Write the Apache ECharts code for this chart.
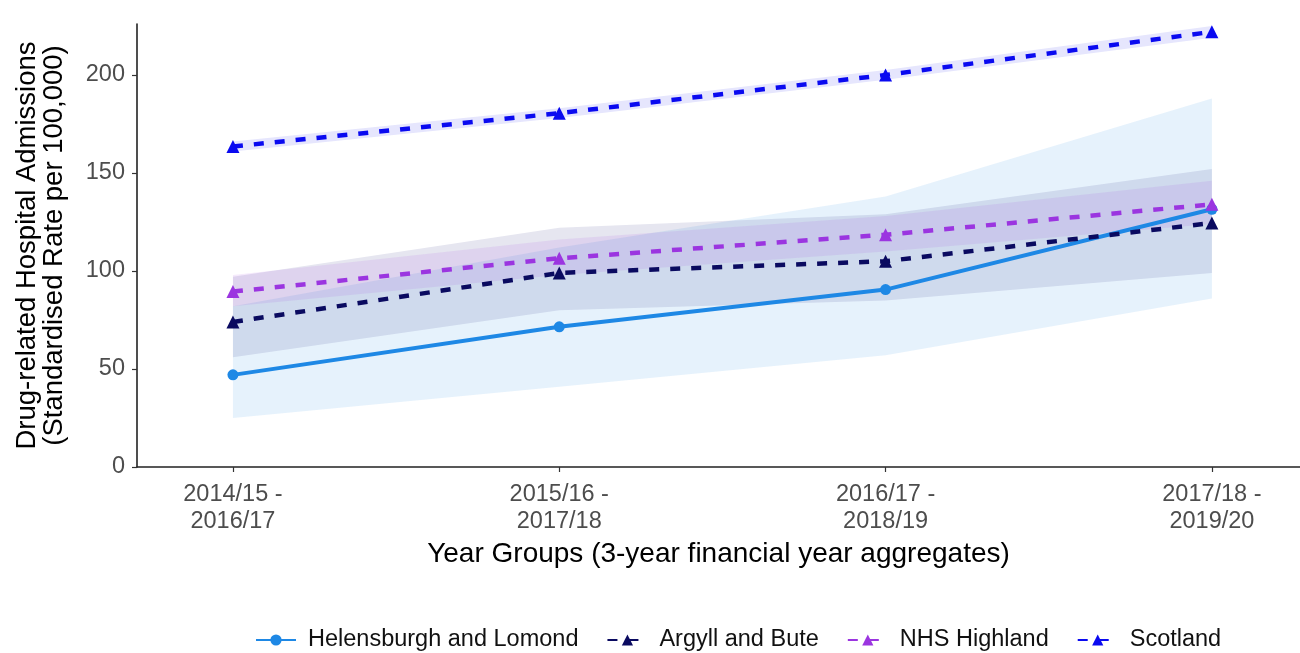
<!DOCTYPE html>
<html>
<head>
<meta charset="utf-8">
<script src="https://cdn.jsdelivr.net/npm/echarts@6/dist/echarts.min.js"></script>
<style>
html,body{margin:0;padding:0;background:#fff;}
#main{width:1300px;height:653px;}
</style>
</head>
<body>
<div id="main"></div>
<script>
const categories = ["2014/15 -\n2016/17", "2015/16 -\n2017/18", "2016/17 -\n2018/19", "2017/18 -\n2019/20"];
const seriesNames = ["Helensburgh and Lomond", "Argyll and Bute", "NHS Highland", "Scotland"];

const helensburgh = [47, 71.5, 90.5, 131.5];
const helensburghLower = [25, 41, 57, 86];
const helensburghUpper = [82, 112, 138, 188];

const argyll = [74, 99, 105, 124.5];
const argyllLower = [56, 80, 85, 99];
const argyllUpper = [97, 122, 129, 152];

const highland = [89.5, 106.5, 118.5, 134];
const highlandLower = [82, 98, 110, 124];
const highlandUpper = [98, 116, 128, 146];

const scotland = [163.5, 180.5, 200, 222];
const scotlandLower = [161, 178, 197.5, 219];
const scotlandUpper = [166, 183, 202.5, 225];

const yTicks = [0, 50, 100, 150, 200];

const colors = ["#1E88E5", "#0A0A60", "#9B35E0", "#0A0AF0"];
const fills = ["rgba(30,136,229,0.11)", "rgba(10,10,110,0.10)", "rgba(155,53,224,0.10)", "rgba(10,10,240,0.10)"];

const values = [helensburgh, argyll, highland, scotland];
const lowers = [helensburghLower, argyllLower, highlandLower, scotlandLower];
const uppers = [helensburghUpper, argyllUpper, highlandUpper, scotlandUpper];

const font = "Liberation Sans, Arial, sans-serif";
const series = [];
// confidence bands (ribbons)
for (let s = 0; s < 4; s++) {
  const lo = lowers[s], up = uppers[s], fill = fills[s];
  series.push({
    name: "band" + s, type: "custom", silent: true, z: 1,
    data: up.map((u, i) => [i, lo[i], u]),
    encode: {x: 0, y: [1, 2]},
    renderItem: function (params, api) {
      if (params.dataIndex !== 0) return null;
      const pts = [];
      for (let i = 0; i < up.length; i++) pts.push(api.coord([i, up[i]]));
      for (let i = lo.length - 1; i >= 0; i--) pts.push(api.coord([i, lo[i]]));
      return {type: "polygon", shape: {points: pts}, style: {fill: fill}};
    }
  });
}
// lines
for (let s = 0; s < 4; s++) {
  series.push({
    name: seriesNames[s], type: "line", z: 5,
    symbol: s === 0 ? "circle" : "triangle",
    symbolSize: s === 0 ? 11 : 13,
    itemStyle: {color: colors[s]},
    lineStyle: {color: colors[s], width: s === 0 ? 4 : 4.5, type: s === 0 ? "solid" : [10, 11]},
    data: values[s].map((v, i) => [i, v])
  });
}

const chart = echarts.init(document.getElementById("main"), null, {renderer: "canvas"});
chart.setOption({
  animation: false,
  backgroundColor: "#fff",
  textStyle: {fontFamily: font},
  grid: {left: 137, top: 24, right: 0, bottom: 186, containLabel: false},
  xAxis: {
    type: "value", min: -0.294, max: 3.27,
    name: "Year Groups (3-year financial year aggregates)",
    nameLocation: "middle", nameGap: 72,
    nameTextStyle: {fontSize: 28, color: "#000", fontFamily: font},
    axisLine: {show: true, onZero: false, lineStyle: {color: "#222", width: 1.6}},
    axisTick: {show: true, length: 5, lineStyle: {color: "#333", width: 1.2}, customValues: [0, 1, 2, 3]},
    axisLabel: {
      customValues: [0, 1, 2, 3],
      formatter: v => categories[Math.round(v)],
      fontSize: 23.5, color: "#4d4d4d", lineHeight: 27, margin: 14, fontFamily: font
    },
    splitLine: {show: false}
  },
  yAxis: {
    type: "value", min: 0, max: 226, interval: 50,
    name: "Drug-related Hospital Admissions\n(Standardised Rate per 100,000)",
    nameLocation: "middle", nameGap: 69,
    nameTextStyle: {fontSize: 27.5, color: "#000", lineHeight: 27, fontFamily: font},
    axisLine: {show: true, onZero: false, lineStyle: {color: "#222", width: 1.6}},
    axisTick: {show: true, length: 5, lineStyle: {color: "#333", width: 1.2}, customValues: yTicks},
    axisLabel: {customValues: yTicks, fontSize: 23.5, color: "#4d4d4d", margin: 12, fontFamily: font},
    splitLine: {show: false}
  },
  legend: {
    data: seriesNames.map(n => ({name: n})),
    left: 250, top: 623,
    itemWidth: 40, itemHeight: 14, itemGap: 28,
    textStyle: {fontSize: 23.5, color: "#111", fontFamily: font, padding: [0, 0, 0, 7]}
  },
  series: series
});
</script>
</body>
</html>
